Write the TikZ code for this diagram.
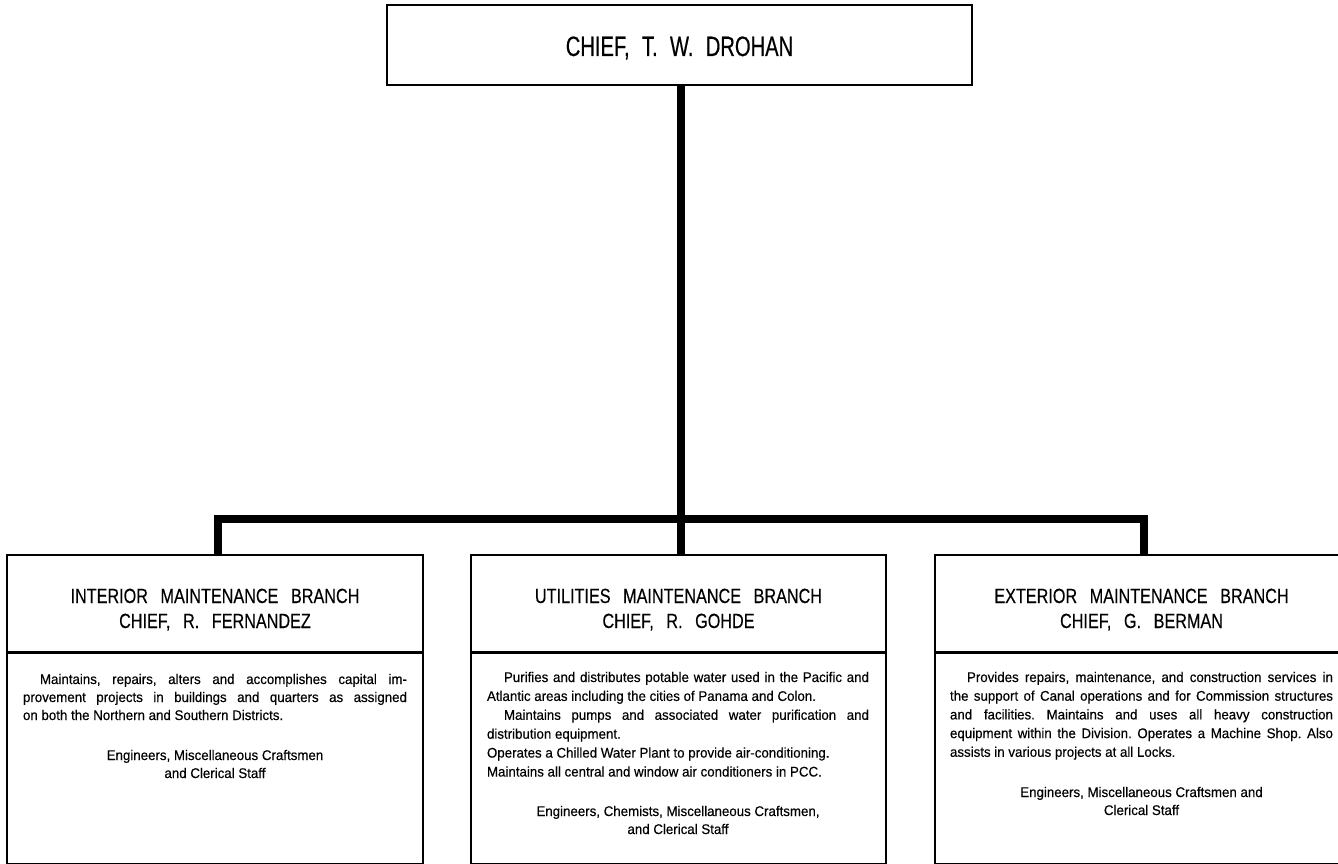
\documentclass[tikz,border=0pt]{standalone}
\usepackage{fontspec}
\setmainfont{Liberation Sans}
\newfontfamily\topfont[FakeStretch=0.72,WordSpace=2.2,FakeBold=0.4]{Liberation Sans}
\newfontfamily\headfont[FakeStretch=0.79,WordSpace=2.8,FakeBold=0.3]{Liberation Sans}
\newfontfamily\bodyfont[FakeStretch=0.95,FakeBold=0.35]{Liberation Sans}
\frenchspacing
\begin{document}
\begin{tikzpicture}[x=1pt,y=-1pt,
  box/.style={draw, line width=1.5pt, inner sep=0pt, rectangle},
  conn/.style={line width=8pt, line join=miter, line cap=butt},
  txt/.style={anchor=base, inner sep=0pt},
  headtext/.style={txt, font=\headfont\fontsize{20.5}{25}\selectfont},
  bodytext/.style={txt, font=\bodyfont\fontsize{14}{18.7}\selectfont}]
\useasboundingbox (0,0) rectangle (1338,864);
\clip (0,0) rectangle (1338,864);
\fill[white] (0,0) rectangle (1338,864);

% top box
\node[box, minimum width=585pt, minimum height=80pt] (chief) at (679.5,45) {};
\node[txt] (chieft) at (679.5,56) {\topfont\fontsize{28}{32}\selectfont CHIEF, T. W. DROHAN};

% branch boxes
\node[box, minimum width=416pt, minimum height=97pt] (lh) at (215,603.5) {};
\node[box, minimum width=416pt, minimum height=210pt, anchor=north] (lb) at (lh.south) {};
\node[box, minimum width=415pt, minimum height=97pt] (mh) at (678.5,603.5) {};
\node[box, minimum width=415pt, minimum height=210pt, anchor=north] (mb) at (mh.south) {};
\node[box, minimum width=413pt, minimum height=97pt] (rh) at (1141.5,603.5) {};
\node[box, minimum width=413pt, minimum height=210pt, anchor=north] (rb) at (rh.south) {};

% connectors
\coordinate (busL) at (218,519);
\coordinate (busM) at (681,519);
\coordinate (busR) at (1144,519);
\draw[conn] (chief.south -| busM) -- (mh.north -| busM);
\draw[conn] (lh.north -| busL) -- (busL) -- (busR) -- (rh.north -| busR);

% headings
\node[headtext] (lht) at (215,603) {\parbox[t]{400pt}{\centering INTERIOR MAINTENANCE BRANCH\\CHIEF, R. FERNANDEZ}};
\node[headtext] (mht) at (678.5,603) {\parbox[t]{400pt}{\centering UTILITIES MAINTENANCE BRANCH\\CHIEF, R. GOHDE}};
\node[headtext] (rht) at (1141.5,603) {\parbox[t]{400pt}{\centering EXTERIOR MAINTENANCE BRANCH\\CHIEF, G. BERMAN}};

% bodies
\node[bodytext] (lbt) at (215,684) {\parbox[t]{384pt}{\fontsize{14}{18}\selectfont\noindent\hspace*{17pt}Maintains, repairs, alters and accomplishes capital im-\linebreak provement projects in buildings and quarters as assigned\linebreak on both the Northern and Southern Districts.}};
\node[bodytext] (lst) at (215,760) {\parbox[t]{384pt}{\centering\fontsize{14}{18}\selectfont Engineers, Miscellaneous Craftsmen\\and Clerical Staff}};

\node[bodytext] (mbt) at (678,682) {\parbox[t]{382pt}{\fontsize{14}{18.9}\selectfont\noindent\hspace*{17pt}Purifies and distributes potable water used in the Pacific and\linebreak Atlantic areas including the cities of Panama and Colon.\par
\noindent\hspace*{17pt}Maintains pumps and associated water purification and\linebreak distribution equipment.\par
\noindent Operates a Chilled Water Plant to provide air-conditioning.\par
\noindent Maintains all central and window air conditioners in PCC.}};
\node[bodytext] (mst) at (678,816) {\parbox[t]{382pt}{\centering\fontsize{14}{18}\selectfont Engineers, Chemists, Miscellaneous Craftsmen,\\and Clerical Staff}};

\node[bodytext] (rbt) at (1141.5,682) {\parbox[t]{383pt}{\fontsize{14}{18.7}\selectfont\noindent\hspace*{17pt}Provides repairs, maintenance, and construction services in\linebreak the support of Canal operations and for Commission structures\linebreak and facilities. Maintains and uses all heavy construction\linebreak equipment within the Division. Operates a Machine Shop. Also\linebreak assists in various projects at all Locks.}};
\node[bodytext] (rst) at (1141.5,797) {\parbox[t]{383pt}{\centering\fontsize{14}{18}\selectfont Engineers, Miscellaneous Craftsmen and\\Clerical Staff}};
\end{tikzpicture}
\end{document}
